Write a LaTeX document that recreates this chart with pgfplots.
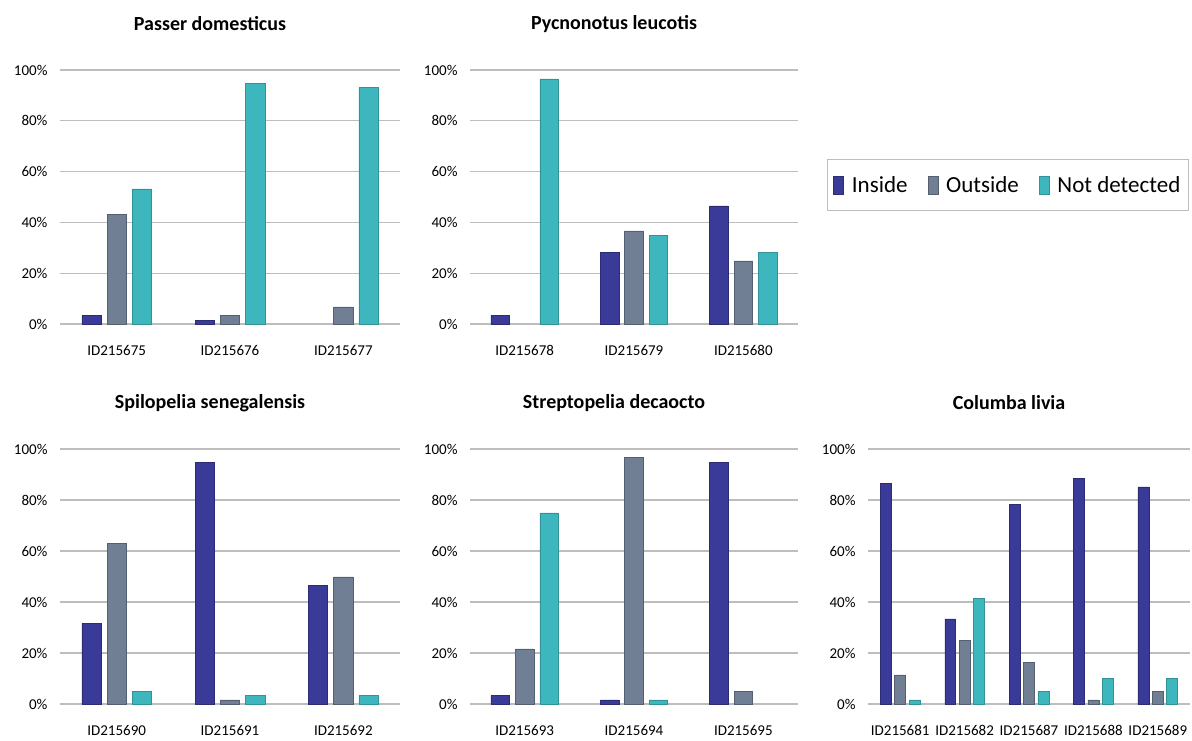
\documentclass[border=0pt]{standalone}
\usepackage{fontspec}
\setmainfont{Carlito}
\usepackage{pgfplots}
\usepackage{pgfplotstable}
\pgfplotsset{compat=1.18}

\definecolor{cin}{HTML}{3A3A98}
\definecolor{cout}{HTML}{717F95}
\definecolor{cnd}{HTML}{3DB7BD}
\definecolor{gridc}{HTML}{BDBDBD}

% percentages per individual: inside / outside / not detected (nan = no bar)
\pgfplotstableread{
x in out nd
0 3.3 43.1 53.2
1 1.4 3.3 94.8
2 nan 6.7 93.2
}\passer
\pgfplotstableread{
x in out nd
0 3.3 nan 96.5
1 28.3 36.7 35.0
2 46.5 24.9 28.3
}\pycno
\pgfplotstableread{
x in out nd
0 31.7 63.0 5.0
1 94.8 1.6 3.4
2 46.6 49.9 3.4
}\spilo
\pgfplotstableread{
x in out nd
0 3.3 21.6 75.0
1 1.6 96.6 1.6
2 94.8 5.0 nan
}\strepto
\pgfplotstableread{
x in out nd
0 86.6 11.4 1.6
1 33.4 25.0 41.4
2 78.4 16.4 5.0
3 88.5 1.6 10.1
4 85.1 5.0 10.1
}\columba

\pgfplotsset{
  panel/.style={
    scale only axis,
    anchor=south west,
    ymin=0, ymax=100,
    ytick={0,20,...,100},
    yticklabel={\pgfmathprintnumber{\tick}\%},
    xtick={0,...,4},
    ymajorgrids,
    grid style={gridc, line width=1.3pt},
    axis line style={draw=none},
    major tick style={draw=none},
    clip=false,
    unbounded coords=discard,
    ticklabel style={font=\fontsize{15}{18}\selectfont},
    /pgf/number format/assume math mode=true,
    yticklabel style={xshift=-9pt},
    xticklabel style={yshift=-18pt},
    title style={font=\bfseries\fontsize{20}{24}\selectfont,
      at={(0.5,1)}, anchor=center, yshift=40pt, xshift=-20pt},
    bar width=0.17,
  },
  sin/.style={ybar, bar shift=-0.223, fill=cin, draw=cin!75!black, line width=0.5pt},
  sout/.style={ybar, bar shift=0, fill=cout, draw=cout!75!black, line width=0.5pt},
  snd/.style={ybar, bar shift=0.223, fill=cnd, draw=cnd!80!black, line width=0.5pt},
}

\begin{document}
\begin{tikzpicture}
\path[use as bounding box] (0pt,0pt) rectangle (1192pt,740pt);

\begin{axis}[panel, at={(60pt,416pt)}, width=340pt, height=254pt,
  xmin=-0.5, xmax=2.5, xtick={0,1,2}, xticklabels={ID215675,ID215676,ID215677},
  title={Passer domesticus}]
\addplot[sin] table[x=x,y=in] {\passer};
\addplot[sout] table[x=x,y=out] {\passer};
\addplot[snd] table[x=x,y=nd] {\passer};
\end{axis}

\begin{axis}[panel, at={(470pt,416pt)}, width=328pt, height=254pt,
  xmin=-0.5, xmax=2.5, xtick={0,1,2}, xticklabels={ID215678,ID215679,ID215680},
  title={Pycnonotus leucotis},
  legend columns=3,
  legend style={at={(1.0884,0.6496)}, anchor=north west,
    draw=gridc, line width=0.8pt, fill=white,
    font=\fontsize{23}{27}\selectfont,
    inner xsep=6pt, inner ysep=15pt,
    /tikz/every odd column/.append style={column sep=6pt},
    /tikz/every even column/.append style={column sep=18pt}},
  legend image code/.code={\fill[#1] (0pt,-9pt) rectangle (10pt,9pt);}]
\addplot[sin] table[x=x,y=in] {\pycno};
\addplot[sout] table[x=x,y=out] {\pycno};
\addplot[snd] table[x=x,y=nd] {\pycno};
\legend{Inside,Outside,Not detected}
\end{axis}

\begin{axis}[panel, at={(60pt,36pt)}, width=340pt, height=255pt,
  xmin=-0.5, xmax=2.5, xtick={0,1,2}, xticklabels={ID215690,ID215691,ID215692},
  title={Spilopelia senegalensis}]
\addplot[sin] table[x=x,y=in] {\spilo};
\addplot[sout] table[x=x,y=out] {\spilo};
\addplot[snd] table[x=x,y=nd] {\spilo};
\end{axis}

\begin{axis}[panel, at={(470pt,36pt)}, width=328pt, height=255pt,
  xmin=-0.5, xmax=2.5, xtick={0,1,2}, xticklabels={ID215693,ID215694,ID215695},
  title={Streptopelia decaocto}]
\addplot[sin] table[x=x,y=in] {\strepto};
\addplot[sout] table[x=x,y=out] {\strepto};
\addplot[snd] table[x=x,y=nd] {\strepto};
\end{axis}

\begin{axis}[panel, at={(868pt,36pt)}, width=322pt, height=255pt,
  xmin=-0.5, xmax=4.5, xtick={0,...,4},
  xticklabels={ID215681,ID215682,ID215687,ID215688,ID215689},
  title={Columba livia}]
\addplot[sin] table[x=x,y=in] {\columba};
\addplot[sout] table[x=x,y=out] {\columba};
\addplot[snd] table[x=x,y=nd] {\columba};
\end{axis}
\end{tikzpicture}
\end{document}
